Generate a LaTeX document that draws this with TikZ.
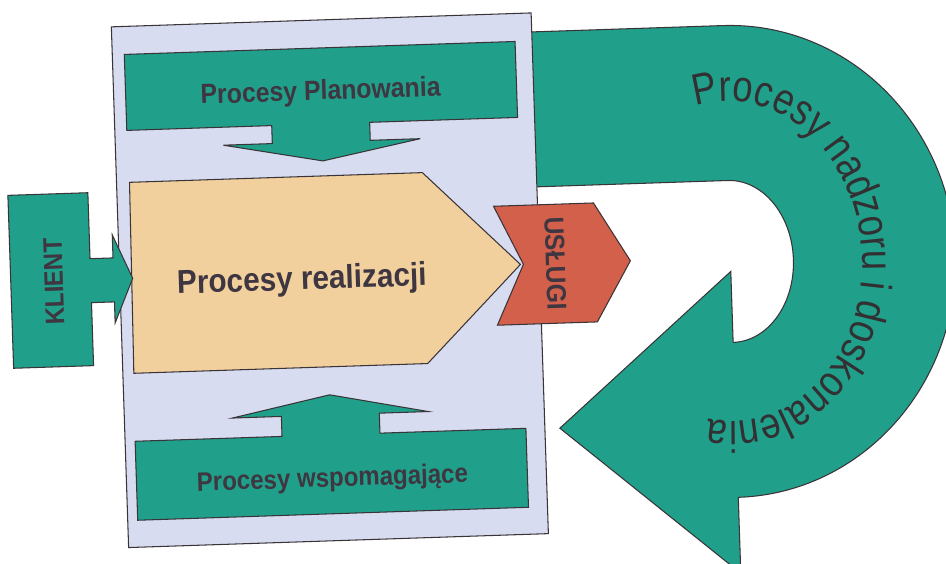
\documentclass[tikz,border=0pt]{standalone}
\usepackage{fontspec}
\setmainfont{Liberation Sans}
\newfontfamily\lblfont[FakeStretch=0.9]{Liberation Sans}
\newfontfamily\nadzorfont[FakeStretch=0.83]{Liberation Sans}
\usetikzlibrary{decorations.text}
\definecolor{procgreen}{HTML}{20A08A}
\definecolor{paneblue}{HTML}{D7DCF0}
\definecolor{realtan}{HTML}{F1D09E}
\definecolor{uslred}{HTML}{D2604A}
\definecolor{edgegray}{HTML}{3A3438}
\definecolor{txtgray}{HTML}{3E3640}
\definecolor{arcgray}{HTML}{333033}
\newcommand{\arcstyle}{\nadzorfont\fontsize{25}{30}\selectfont\color{arcgray}}

\begin{document}
\begin{tikzpicture}[x=0.02cm, y=-0.02cm,
  shp/.style={draw=edgegray, line width=0.6pt, line join=miter},
  greenshp/.style={shp, fill=procgreen},
  lbl/.style={font=\lblfont\bfseries\fontsize{#1}{#1}\selectfont, text=txtgray, inner sep=0pt, transform shape}]
\useasboundingbox (0,0) rectangle (946,564);
\clip (0,0) rectangle (946,564);
\begin{scope}[rotate around={1.9:(473,282)}]
% Procesy nadzoru i doskonalenia
\coordinate (ctr) at (731,270);
\draw[greenshp] (530,34) -- (731,34) arc[start angle=-90, end angle=90, x radius=225, y radius=236]
  -- (731,582) -- (555,431) -- (731,280) -- (731,351)
  arc[start angle=90, end angle=-90, x radius=63, y radius=81] -- (530,189) -- cycle;
\path[decorate, decoration={text along path, text align=left,
  text={|\arcstyle|Procesy nadzoru i doskonalenia}}]
  (ctr) ++(-103:132 and 160) arc[start angle=-103, end angle=102, x radius=132, y radius=160];
% panel
\draw[shp, fill=paneblue] (120,15) rectangle (540,536);
% Planowanie
\draw[greenshp] (132,43) -- (523,43) -- (523,119) -- (375,119) -- (375,137) -- (425,137)
  -- (327,156) -- (228,137) -- (277,137) -- (277,119) -- (132,119) -- cycle;
\node[lbl=15.7, anchor=base] (plan) at (327,95) {Procesy Planowania};
% Wspomaganie
\draw[greenshp] (130,430) -- (277,430) -- (277,410) -- (228,410) -- (326,390) -- (424,410)
  -- (375,410) -- (375,430) -- (521,430) -- (521,509) -- (130,509) -- cycle;
\node[lbl=15.2, anchor=base] (wsp) at (326,482) {Procesy wspomagające};
% Realizacja
\draw[shp, fill=realtan] (133,171) -- (426,171) -- (521,266) -- (425,362) -- (131,362) -- cycle;
\node[lbl=18.8, anchor=base] (real) at (302,284) {Procesy realizacji};
% Klient
\draw[greenshp] (11,180) -- (91,180) -- (91,246) -- (114,246) -- (114,223) -- (133,267)
  -- (114,311) -- (114,290) -- (91,290) -- (91,353) -- (11,353) -- cycle;
\node[lbl=15.2, rotate=90] (klient) at (54,268) {KLIENT};
% Usługi
\draw[shp, fill=uslred] (496,207) -- (596,207) -- (631,266) -- (596,326) -- (496,326) -- (524,266) -- cycle;
\node[lbl=15.6, rotate=-90] (uslugi) at (556,266) {USŁUGI};
\end{scope}
\end{tikzpicture}
\end{document}
